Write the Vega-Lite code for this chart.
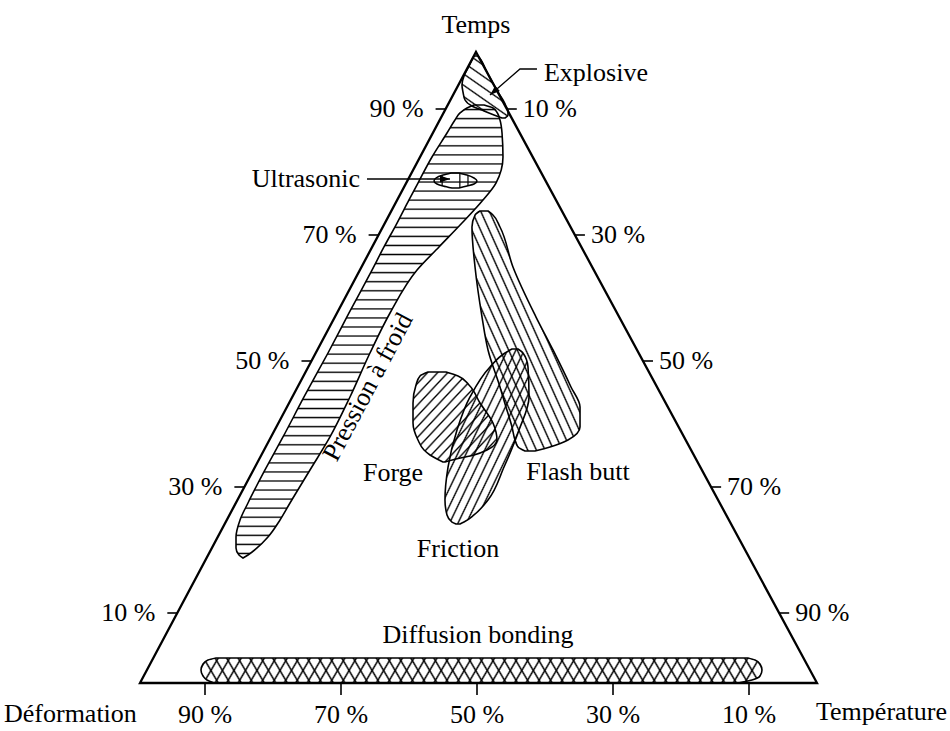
{
"$schema": "https://vega.github.io/schema/vega-lite/v6.json",
"width": 950, "height": 731, "padding": 0, "autosize": "none", "background": "white",
"config": {"view": {"stroke": null}, "font": "Liberation Serif", "text": {"font": "Liberation Serif", "fontSize": 26, "color": "#000"}},
"datasets": {
"shapes": [
{"s":"P","y":90.63,"x":49.56,"x2":51.03},
{"s":"P","y":90.16,"x":48.53,"x2":52.35},
{"s":"P","y":89.37,"x":47.5,"x2":53.0},
{"s":"P","y":88.25,"x":46.76,"x2":53.38},
{"s":"P","y":86.19,"x":45.59,"x2":53.68},
{"s":"P","y":82.38,"x":43.38,"x2":53.82},
{"s":"P","y":78.25,"x":41.32,"x2":52.79},
{"s":"P","y":75.56,"x":40.0,"x2":50.88},
{"s":"P","y":71.9,"x":38.24,"x2":47.79},
{"s":"P","y":68.1,"x":36.32,"x2":44.41},
{"s":"P","y":64.44,"x":34.56,"x2":41.18},
{"s":"P","y":57.62,"x":31.18,"x2":37.21},
{"s":"P","y":51.27,"x":28.09,"x2":34.26},
{"s":"P","y":44.29,"x":24.56,"x2":31.32},
{"s":"P","y":37.94,"x":21.47,"x2":28.38},
{"s":"P","y":32.7,"x":18.82,"x2":25.44},
{"s":"P","y":27.46,"x":16.32,"x2":22.5},
{"s":"P","y":24.76,"x":15.15,"x2":21.03},
{"s":"P","y":22.06,"x":14.56,"x2":19.26},
{"s":"P","y":20.32,"x":14.56,"x2":17.65},
{"s":"P","y":19.21,"x":15.0,"x2":16.32},
{"s":"P","y":18.73,"x":15.59,"x2":15.59},
{"s":"E","y":98.41,"x":49.56,"x2":50.15},
{"s":"E","y":97.78,"x":49.26,"x2":50.59},
{"s":"E","y":96.51,"x":48.68,"x2":51.18},
{"s":"E","y":95.24,"x":48.09,"x2":51.76},
{"s":"E","y":93.81,"x":47.79,"x2":52.5},
{"s":"E","y":92.7,"x":47.94,"x2":53.09},
{"s":"E","y":91.43,"x":48.24,"x2":53.82},
{"s":"E","y":90.48,"x":49.26,"x2":54.26},
{"s":"E","y":89.68,"x":51.03,"x2":54.56},
{"s":"E","y":89.05,"x":52.5,"x2":54.56},
{"s":"E","y":88.57,"x":53.68,"x2":54.12},
{"s":"F","y":73.81,"x":50.44,"x2":51.62},
{"s":"F","y":73.17,"x":49.71,"x2":52.35},
{"s":"F","y":71.27,"x":49.26,"x2":53.38},
{"s":"F","y":64.92,"x":49.71,"x2":55.29},
{"s":"F","y":56.98,"x":50.74,"x2":58.68},
{"s":"F","y":51.75,"x":51.62,"x2":61.18},
{"s":"F","y":45.87,"x":53.38,"x2":63.82},
{"s":"F","y":42.7,"x":54.26,"x2":65.15},
{"s":"F","y":39.52,"x":55.15,"x2":65.15},
{"s":"F","y":37.46,"x":55.59,"x2":63.38},
{"s":"F","y":36.35,"x":56.03,"x2":60.74},
{"s":"F","y":35.71,"x":57.06,"x2":58.53},
{"s":"R","y":51.9,"x":55.15,"x2":56.03},
{"s":"R","y":51.27,"x":54.12,"x2":56.76},
{"s":"R","y":49.05,"x":51.91,"x2":57.5},
{"s":"R","y":44.29,"x":48.97,"x2":57.65},
{"s":"R","y":39.05,"x":47.06,"x2":56.18},
{"s":"R","y":33.17,"x":45.74,"x2":53.97},
{"s":"R","y":27.94,"x":45.29,"x2":51.62},
{"s":"R","y":25.56,"x":45.59,"x2":49.56},
{"s":"R","y":24.44,"x":46.32,"x2":48.09},
{"s":"R","y":24.13,"x":46.91,"x2":47.5},
{"s":"G","y":48.25,"x":42.79,"x2":45.44},
{"s":"G","y":47.62,"x":41.62,"x2":47.21},
{"s":"G","y":46.19,"x":41.03,"x2":48.82},
{"s":"G","y":43.33,"x":40.59,"x2":50.44},
{"s":"G","y":40.16,"x":40.59,"x2":52.35},
{"s":"G","y":37.46,"x":41.32,"x2":52.94},
{"s":"G","y":35.87,"x":42.21,"x2":51.47},
{"s":"G","y":35.08,"x":43.09,"x2":49.56},
{"s":"G","y":34.44,"x":44.12,"x2":46.91},
{"s":"G","y":33.97,"x":45.0,"x2":45.29},
{"s":"U","y":79.84,"x":46.18,"x2":47.35},
{"s":"U","y":79.52,"x":45.0,"x2":48.53},
{"s":"U","y":79.05,"x":43.97,"x2":49.56},
{"s":"U","y":78.57,"x":43.68,"x2":50.0},
{"s":"U","y":78.1,"x":44.12,"x2":49.56},
{"s":"U","y":77.78,"x":45.0,"x2":48.53},
{"s":"U","y":77.46,"x":46.32,"x2":47.35},
{"s":"D","y":2.86,"x":11.62,"x2":89.85},
{"s":"D","y":2.54,"x":10.44,"x2":90.88},
{"s":"D","y":1.9,"x":9.71,"x2":91.62},
{"s":"D","y":0.95,"x":9.41,"x2":91.91},
{"s":"D","y":0,"x":9.71,"x2":91.62},
{"s":"D","y":-0.63,"x":10.29,"x2":90.44},
{"s":"D","y":-1.11,"x":11.32,"x2":88.38}
],
"lines": [
{"id":"tri","o":0,"x":0.44,"y":-1.11},
{"id":"tri","o":1,"x":49.85,"y":99.05},
{"id":"tri","o":2,"x":100.0,"y":-1.11},
{"id":"tri","o":3,"x":0.44,"y":-1.11},
{"id":"tri","o":4,"x":49.85,"y":99.05},
{"id":"exp","o":0,"x":58.82,"y":96.35},
{"id":"exp","o":1,"x":56.32,"y":96.35},
{"id":"exp","o":2,"x":51.91,"y":92.22},
{"id":"ult","o":0,"x":33.82,"y":78.89},
{"id":"ult","o":1,"x":46.03,"y":78.89}
],
"arrows": [
{"x":51.91,"y":92.22,"a":229},
{"x":46.03,"y":78.89,"a":90}
],
"ticks": [
{"side":"L","x":45.38,"y":90,"t":"90 %"},
{"side":"L","x":35.53,"y":70,"t":"70 %"},
{"side":"L","x":25.66,"y":50,"t":"50 %"},
{"side":"L","x":15.79,"y":30,"t":"30 %"},
{"side":"L","x":5.93,"y":10,"t":"10 %"},
{"side":"R","x":54.38,"y":90,"t":"10 %"},
{"side":"R","x":64.4,"y":70,"t":"30 %"},
{"side":"R","x":74.41,"y":50,"t":"50 %"},
{"side":"R","x":84.43,"y":30,"t":"70 %"},
{"side":"R","x":94.44,"y":10,"t":"90 %"},
{"side":"B","x":10,"y":-1.11,"t":"90 %"},
{"side":"B","x":30,"y":-1.11,"t":"70 %"},
{"side":"B","x":50,"y":-1.11,"t":"50 %"},
{"side":"B","x":70,"y":-1.11,"t":"30 %"},
{"side":"B","x":90,"y":-1.11,"t":"10 %"}
],
"labels": [
{"g":"C","t":"Temps","x":49.85,"y":102.06},
{"g":"C","t":"Forge","x":37.65,"y":30.95},
{"g":"C","t":"Friction","x":47.21,"y":18.89},
{"g":"C","t":"Flash butt","x":64.85,"y":31.11},
{"g":"C","t":"Diffusion bonding","x":50.15,"y":5.24},
{"g":"Lf","t":"Explosive","x":59.85,"y":94.44},
{"g":"Lf","t":"Déformation","x":-19.56,"y":-7.3},
{"g":"Rt","t":"Ultrasonic","x":32.79,"y":77.62},
{"g":"Rt","t":"Température","x":119.12,"y":-7.0},
{"g":"Rot","t":"Pression à froid","x":33.97,"y":45.87}
]
},
"encoding": {
"x": {"field":"x","type":"quantitative","scale":{"domain":[-20.1471,119.5588],"nice":false,"zero":false},"axis":null},
"y": {"field":"y","type":"quantitative","scale":{"domain":[-8.7302,107.3016],"nice":false,"zero":false},"axis":null}
},
"layer": [
{"data":{"name":"shapes"},"transform":[{"filter":{"field":"s","equal":"P"}}],
"mark":{"type":"area","orient":"horizontal","interpolate":"monotone","stroke":"#000","strokeWidth":1.6,"opacity":1,
"fill":{"gradient":"linear","x1":0,"y1":0,"x2":0,"y2":1,"stops":[
{"offset":0.007,"color":"#0000"},{"offset":0.01,"color":"#000"},{"offset":0.013,"color":"#0000"},
{"offset":0.027,"color":"#0000"},{"offset":0.03,"color":"#000"},{"offset":0.033,"color":"#0000"},
{"offset":0.047,"color":"#0000"},{"offset":0.05,"color":"#000"},{"offset":0.053,"color":"#0000"},
{"offset":0.067,"color":"#0000"},{"offset":0.07,"color":"#000"},{"offset":0.073,"color":"#0000"},
{"offset":0.087,"color":"#0000"},{"offset":0.09,"color":"#000"},{"offset":0.093,"color":"#0000"},
{"offset":0.107,"color":"#0000"},{"offset":0.11,"color":"#000"},{"offset":0.113,"color":"#0000"},
{"offset":0.127,"color":"#0000"},{"offset":0.13,"color":"#000"},{"offset":0.133,"color":"#0000"},
{"offset":0.147,"color":"#0000"},{"offset":0.15,"color":"#000"},{"offset":0.153,"color":"#0000"},
{"offset":0.167,"color":"#0000"},{"offset":0.17,"color":"#000"},{"offset":0.173,"color":"#0000"},
{"offset":0.187,"color":"#0000"},{"offset":0.19,"color":"#000"},{"offset":0.193,"color":"#0000"},
{"offset":0.207,"color":"#0000"},{"offset":0.21,"color":"#000"},{"offset":0.213,"color":"#0000"},
{"offset":0.227,"color":"#0000"},{"offset":0.23,"color":"#000"},{"offset":0.233,"color":"#0000"},
{"offset":0.247,"color":"#0000"},{"offset":0.25,"color":"#000"},{"offset":0.253,"color":"#0000"},
{"offset":0.267,"color":"#0000"},{"offset":0.27,"color":"#000"},{"offset":0.273,"color":"#0000"},
{"offset":0.287,"color":"#0000"},{"offset":0.29,"color":"#000"},{"offset":0.293,"color":"#0000"},
{"offset":0.307,"color":"#0000"},{"offset":0.31,"color":"#000"},{"offset":0.313,"color":"#0000"},
{"offset":0.327,"color":"#0000"},{"offset":0.33,"color":"#000"},{"offset":0.333,"color":"#0000"},
{"offset":0.347,"color":"#0000"},{"offset":0.35,"color":"#000"},{"offset":0.353,"color":"#0000"},
{"offset":0.367,"color":"#0000"},{"offset":0.37,"color":"#000"},{"offset":0.373,"color":"#0000"},
{"offset":0.387,"color":"#0000"},{"offset":0.39,"color":"#000"},{"offset":0.393,"color":"#0000"},
{"offset":0.407,"color":"#0000"},{"offset":0.41,"color":"#000"},{"offset":0.413,"color":"#0000"},
{"offset":0.427,"color":"#0000"},{"offset":0.43,"color":"#000"},{"offset":0.433,"color":"#0000"},
{"offset":0.447,"color":"#0000"},{"offset":0.45,"color":"#000"},{"offset":0.453,"color":"#0000"},
{"offset":0.467,"color":"#0000"},{"offset":0.47,"color":"#000"},{"offset":0.473,"color":"#0000"},
{"offset":0.487,"color":"#0000"},{"offset":0.49,"color":"#000"},{"offset":0.493,"color":"#0000"},
{"offset":0.507,"color":"#0000"},{"offset":0.51,"color":"#000"},{"offset":0.513,"color":"#0000"},
{"offset":0.527,"color":"#0000"},{"offset":0.53,"color":"#000"},{"offset":0.533,"color":"#0000"},
{"offset":0.547,"color":"#0000"},{"offset":0.55,"color":"#000"},{"offset":0.553,"color":"#0000"},
{"offset":0.567,"color":"#0000"},{"offset":0.57,"color":"#000"},{"offset":0.573,"color":"#0000"},
{"offset":0.587,"color":"#0000"},{"offset":0.59,"color":"#000"},{"offset":0.593,"color":"#0000"},
{"offset":0.607,"color":"#0000"},{"offset":0.61,"color":"#000"},{"offset":0.613,"color":"#0000"},
{"offset":0.627,"color":"#0000"},{"offset":0.63,"color":"#000"},{"offset":0.633,"color":"#0000"},
{"offset":0.647,"color":"#0000"},{"offset":0.65,"color":"#000"},{"offset":0.653,"color":"#0000"},
{"offset":0.667,"color":"#0000"},{"offset":0.67,"color":"#000"},{"offset":0.673,"color":"#0000"},
{"offset":0.687,"color":"#0000"},{"offset":0.69,"color":"#000"},{"offset":0.693,"color":"#0000"},
{"offset":0.707,"color":"#0000"},{"offset":0.71,"color":"#000"},{"offset":0.713,"color":"#0000"},
{"offset":0.727,"color":"#0000"},{"offset":0.73,"color":"#000"},{"offset":0.733,"color":"#0000"},
{"offset":0.747,"color":"#0000"},{"offset":0.75,"color":"#000"},{"offset":0.753,"color":"#0000"},
{"offset":0.767,"color":"#0000"},{"offset":0.77,"color":"#000"},{"offset":0.773,"color":"#0000"},
{"offset":0.787,"color":"#0000"},{"offset":0.79,"color":"#000"},{"offset":0.793,"color":"#0000"},
{"offset":0.807,"color":"#0000"},{"offset":0.81,"color":"#000"},{"offset":0.813,"color":"#0000"},
{"offset":0.827,"color":"#0000"},{"offset":0.83,"color":"#000"},{"offset":0.833,"color":"#0000"},
{"offset":0.847,"color":"#0000"},{"offset":0.85,"color":"#000"},{"offset":0.853,"color":"#0000"},
{"offset":0.867,"color":"#0000"},{"offset":0.87,"color":"#000"},{"offset":0.873,"color":"#0000"},
{"offset":0.887,"color":"#0000"},{"offset":0.89,"color":"#000"},{"offset":0.893,"color":"#0000"},
{"offset":0.907,"color":"#0000"},{"offset":0.91,"color":"#000"},{"offset":0.913,"color":"#0000"},
{"offset":0.927,"color":"#0000"},{"offset":0.93,"color":"#000"},{"offset":0.933,"color":"#0000"},
{"offset":0.947,"color":"#0000"},{"offset":0.95,"color":"#000"},{"offset":0.953,"color":"#0000"},
{"offset":0.967,"color":"#0000"},{"offset":0.97,"color":"#000"},{"offset":0.973,"color":"#0000"},
{"offset":0.987,"color":"#0000"},{"offset":0.99,"color":"#000"},{"offset":0.993,"color":"#0000"}
]}},
"encoding":{"x2":{"field":"x2"}}},

{"data":{"name":"shapes"},"transform":[{"filter":{"field":"s","equal":"U"}}],
"mark":{"type":"area","orient":"horizontal","interpolate":"monotone","stroke":"#000","strokeWidth":1.5,"opacity":1,
"fill":{"gradient":"linear","x1":0,"y1":0,"x2":1,"y2":0,"stops":[
{"offset":0.16,"color":"#0000"},{"offset":0.19,"color":"#000"},{"offset":0.22,"color":"#0000"},
{"offset":0.57,"color":"#0000"},{"offset":0.6,"color":"#000"},{"offset":0.63,"color":"#0000"},
{"offset":0.76,"color":"#0000"},{"offset":0.79,"color":"#000"},{"offset":0.82,"color":"#0000"}
]}},
"encoding":{"x2":{"field":"x2"}}},

{"data":{"name":"shapes"},"transform":[{"filter":{"field":"s","equal":"E"}}],
"mark":{"type":"area","orient":"horizontal","interpolate":"monotone","stroke":"#000","strokeWidth":1.6,"opacity":1,
"fill":{"gradient":"linear","x1":0,"y1":1,"x2":0.621,"y2":-0.197,"stops":[
{"offset":0.103,"color":"#0000"},{"offset":0.12,"color":"#000"},{"offset":0.137,"color":"#0000"},
{"offset":0.223,"color":"#0000"},{"offset":0.24,"color":"#000"},{"offset":0.257,"color":"#0000"},
{"offset":0.343,"color":"#0000"},{"offset":0.36,"color":"#000"},{"offset":0.377,"color":"#0000"},
{"offset":0.463,"color":"#0000"},{"offset":0.48,"color":"#000"},{"offset":0.497,"color":"#0000"},
{"offset":0.583,"color":"#0000"},{"offset":0.6,"color":"#000"},{"offset":0.617,"color":"#0000"},
{"offset":0.703,"color":"#0000"},{"offset":0.72,"color":"#000"},{"offset":0.737,"color":"#0000"},
{"offset":0.823,"color":"#0000"},{"offset":0.84,"color":"#000"},{"offset":0.857,"color":"#0000"},
{"offset":0.943,"color":"#0000"},{"offset":0.96,"color":"#000"},{"offset":0.977,"color":"#0000"}
]}},
"encoding":{"x2":{"field":"x2"}}},

{"data":{"name":"shapes"},"transform":[{"filter":{"field":"s","equal":"F"}}],
"mark":{"type":"area","orient":"horizontal","interpolate":"monotone","stroke":"#000","strokeWidth":1.6,"opacity":1,
"fill":{"gradient":"linear","x1":0,"y1":1,"x2":1,"y2":0,"stops":[
{"offset":0.013,"color":"#0000"},{"offset":0.02,"color":"#000"},{"offset":0.027,"color":"#0000"},
{"offset":0.053,"color":"#0000"},{"offset":0.06,"color":"#000"},{"offset":0.067,"color":"#0000"},
{"offset":0.093,"color":"#0000"},{"offset":0.1,"color":"#000"},{"offset":0.107,"color":"#0000"},
{"offset":0.133,"color":"#0000"},{"offset":0.14,"color":"#000"},{"offset":0.147,"color":"#0000"},
{"offset":0.173,"color":"#0000"},{"offset":0.18,"color":"#000"},{"offset":0.187,"color":"#0000"},
{"offset":0.213,"color":"#0000"},{"offset":0.22,"color":"#000"},{"offset":0.227,"color":"#0000"},
{"offset":0.253,"color":"#0000"},{"offset":0.26,"color":"#000"},{"offset":0.267,"color":"#0000"},
{"offset":0.293,"color":"#0000"},{"offset":0.3,"color":"#000"},{"offset":0.307,"color":"#0000"},
{"offset":0.333,"color":"#0000"},{"offset":0.34,"color":"#000"},{"offset":0.347,"color":"#0000"},
{"offset":0.373,"color":"#0000"},{"offset":0.38,"color":"#000"},{"offset":0.387,"color":"#0000"},
{"offset":0.413,"color":"#0000"},{"offset":0.42,"color":"#000"},{"offset":0.427,"color":"#0000"},
{"offset":0.453,"color":"#0000"},{"offset":0.46,"color":"#000"},{"offset":0.467,"color":"#0000"},
{"offset":0.493,"color":"#0000"},{"offset":0.5,"color":"#000"},{"offset":0.507,"color":"#0000"},
{"offset":0.533,"color":"#0000"},{"offset":0.54,"color":"#000"},{"offset":0.547,"color":"#0000"},
{"offset":0.573,"color":"#0000"},{"offset":0.58,"color":"#000"},{"offset":0.587,"color":"#0000"},
{"offset":0.613,"color":"#0000"},{"offset":0.62,"color":"#000"},{"offset":0.627,"color":"#0000"},
{"offset":0.653,"color":"#0000"},{"offset":0.66,"color":"#000"},{"offset":0.667,"color":"#0000"},
{"offset":0.693,"color":"#0000"},{"offset":0.7,"color":"#000"},{"offset":0.707,"color":"#0000"},
{"offset":0.733,"color":"#0000"},{"offset":0.74,"color":"#000"},{"offset":0.747,"color":"#0000"},
{"offset":0.773,"color":"#0000"},{"offset":0.78,"color":"#000"},{"offset":0.787,"color":"#0000"},
{"offset":0.813,"color":"#0000"},{"offset":0.82,"color":"#000"},{"offset":0.827,"color":"#0000"},
{"offset":0.853,"color":"#0000"},{"offset":0.86,"color":"#000"},{"offset":0.867,"color":"#0000"},
{"offset":0.893,"color":"#0000"},{"offset":0.9,"color":"#000"},{"offset":0.907,"color":"#0000"},
{"offset":0.933,"color":"#0000"},{"offset":0.94,"color":"#000"},{"offset":0.947,"color":"#0000"},
{"offset":0.973,"color":"#0000"},{"offset":0.98,"color":"#000"},{"offset":0.987,"color":"#0000"}
]}},
"encoding":{"x2":{"field":"x2"}}},

{"data":{"name":"shapes"},"transform":[{"filter":{"field":"s","equal":"R"}}],
"mark":{"type":"area","orient":"horizontal","interpolate":"monotone","stroke":"#000","strokeWidth":1.6,"opacity":1,
"fill":{"gradient":"linear","x1":0,"y1":0,"x2":1,"y2":1,"stops":[
{"offset":0.016,"color":"#0000"},{"offset":0.025,"color":"#000"},{"offset":0.034,"color":"#0000"},
{"offset":0.066,"color":"#0000"},{"offset":0.075,"color":"#000"},{"offset":0.084,"color":"#0000"},
{"offset":0.116,"color":"#0000"},{"offset":0.125,"color":"#000"},{"offset":0.134,"color":"#0000"},
{"offset":0.166,"color":"#0000"},{"offset":0.175,"color":"#000"},{"offset":0.184,"color":"#0000"},
{"offset":0.216,"color":"#0000"},{"offset":0.225,"color":"#000"},{"offset":0.234,"color":"#0000"},
{"offset":0.266,"color":"#0000"},{"offset":0.275,"color":"#000"},{"offset":0.284,"color":"#0000"},
{"offset":0.316,"color":"#0000"},{"offset":0.325,"color":"#000"},{"offset":0.334,"color":"#0000"},
{"offset":0.366,"color":"#0000"},{"offset":0.375,"color":"#000"},{"offset":0.384,"color":"#0000"},
{"offset":0.416,"color":"#0000"},{"offset":0.425,"color":"#000"},{"offset":0.434,"color":"#0000"},
{"offset":0.466,"color":"#0000"},{"offset":0.475,"color":"#000"},{"offset":0.484,"color":"#0000"},
{"offset":0.516,"color":"#0000"},{"offset":0.525,"color":"#000"},{"offset":0.534,"color":"#0000"},
{"offset":0.566,"color":"#0000"},{"offset":0.575,"color":"#000"},{"offset":0.584,"color":"#0000"},
{"offset":0.616,"color":"#0000"},{"offset":0.625,"color":"#000"},{"offset":0.634,"color":"#0000"},
{"offset":0.666,"color":"#0000"},{"offset":0.675,"color":"#000"},{"offset":0.684,"color":"#0000"},
{"offset":0.716,"color":"#0000"},{"offset":0.725,"color":"#000"},{"offset":0.734,"color":"#0000"},
{"offset":0.766,"color":"#0000"},{"offset":0.775,"color":"#000"},{"offset":0.784,"color":"#0000"},
{"offset":0.816,"color":"#0000"},{"offset":0.825,"color":"#000"},{"offset":0.834,"color":"#0000"},
{"offset":0.866,"color":"#0000"},{"offset":0.875,"color":"#000"},{"offset":0.884,"color":"#0000"},
{"offset":0.916,"color":"#0000"},{"offset":0.925,"color":"#000"},{"offset":0.934,"color":"#0000"},
{"offset":0.966,"color":"#0000"},{"offset":0.975,"color":"#000"},{"offset":0.984,"color":"#0000"}
]}},
"encoding":{"x2":{"field":"x2"}}},

{"data":{"name":"shapes"},"transform":[{"filter":{"field":"s","equal":"G"}}],
"mark":{"type":"area","orient":"horizontal","interpolate":"monotone","stroke":"#000","strokeWidth":1.6,"opacity":1,
"fill":{"gradient":"linear","x1":0,"y1":0,"x2":1,"y2":1,"stops":[
{"offset":0.019,"color":"#0000"},{"offset":0.03,"color":"#000"},{"offset":0.041,"color":"#0000"},
{"offset":0.079,"color":"#0000"},{"offset":0.09,"color":"#000"},{"offset":0.101,"color":"#0000"},
{"offset":0.139,"color":"#0000"},{"offset":0.15,"color":"#000"},{"offset":0.161,"color":"#0000"},
{"offset":0.199,"color":"#0000"},{"offset":0.21,"color":"#000"},{"offset":0.221,"color":"#0000"},
{"offset":0.259,"color":"#0000"},{"offset":0.27,"color":"#000"},{"offset":0.281,"color":"#0000"},
{"offset":0.319,"color":"#0000"},{"offset":0.33,"color":"#000"},{"offset":0.341,"color":"#0000"},
{"offset":0.379,"color":"#0000"},{"offset":0.39,"color":"#000"},{"offset":0.401,"color":"#0000"},
{"offset":0.439,"color":"#0000"},{"offset":0.45,"color":"#000"},{"offset":0.461,"color":"#0000"},
{"offset":0.499,"color":"#0000"},{"offset":0.51,"color":"#000"},{"offset":0.521,"color":"#0000"},
{"offset":0.559,"color":"#0000"},{"offset":0.57,"color":"#000"},{"offset":0.581,"color":"#0000"},
{"offset":0.619,"color":"#0000"},{"offset":0.63,"color":"#000"},{"offset":0.641,"color":"#0000"},
{"offset":0.679,"color":"#0000"},{"offset":0.69,"color":"#000"},{"offset":0.701,"color":"#0000"},
{"offset":0.739,"color":"#0000"},{"offset":0.75,"color":"#000"},{"offset":0.761,"color":"#0000"},
{"offset":0.799,"color":"#0000"},{"offset":0.81,"color":"#000"},{"offset":0.821,"color":"#0000"},
{"offset":0.859,"color":"#0000"},{"offset":0.87,"color":"#000"},{"offset":0.881,"color":"#0000"},
{"offset":0.919,"color":"#0000"},{"offset":0.93,"color":"#000"},{"offset":0.941,"color":"#0000"},
{"offset":0.979,"color":"#0000"},{"offset":0.99,"color":"#000"},{"offset":1,"color":"#0000"}
]}},
"encoding":{"x2":{"field":"x2"}}},

{"data":{"name":"shapes"},"transform":[{"filter":{"field":"s","equal":"D"}}],
"mark":{"type":"area","orient":"horizontal","interpolate":"monotone","stroke":"#000","strokeWidth":1.6,"opacity":1,
"fill":{"gradient":"linear","x1":0,"y1":0,"x2":1.0255,"y2":0.0269,"stops":[
{"offset":0.007,"color":"#0000"},{"offset":0.01,"color":"#000"},{"offset":0.013,"color":"#0000"},
{"offset":0.027,"color":"#0000"},{"offset":0.03,"color":"#000"},{"offset":0.033,"color":"#0000"},
{"offset":0.047,"color":"#0000"},{"offset":0.05,"color":"#000"},{"offset":0.053,"color":"#0000"},
{"offset":0.067,"color":"#0000"},{"offset":0.07,"color":"#000"},{"offset":0.073,"color":"#0000"},
{"offset":0.087,"color":"#0000"},{"offset":0.09,"color":"#000"},{"offset":0.093,"color":"#0000"},
{"offset":0.107,"color":"#0000"},{"offset":0.11,"color":"#000"},{"offset":0.113,"color":"#0000"},
{"offset":0.127,"color":"#0000"},{"offset":0.13,"color":"#000"},{"offset":0.133,"color":"#0000"},
{"offset":0.147,"color":"#0000"},{"offset":0.15,"color":"#000"},{"offset":0.153,"color":"#0000"},
{"offset":0.167,"color":"#0000"},{"offset":0.17,"color":"#000"},{"offset":0.173,"color":"#0000"},
{"offset":0.187,"color":"#0000"},{"offset":0.19,"color":"#000"},{"offset":0.193,"color":"#0000"},
{"offset":0.207,"color":"#0000"},{"offset":0.21,"color":"#000"},{"offset":0.213,"color":"#0000"},
{"offset":0.227,"color":"#0000"},{"offset":0.23,"color":"#000"},{"offset":0.233,"color":"#0000"},
{"offset":0.247,"color":"#0000"},{"offset":0.25,"color":"#000"},{"offset":0.253,"color":"#0000"},
{"offset":0.267,"color":"#0000"},{"offset":0.27,"color":"#000"},{"offset":0.273,"color":"#0000"},
{"offset":0.287,"color":"#0000"},{"offset":0.29,"color":"#000"},{"offset":0.293,"color":"#0000"},
{"offset":0.307,"color":"#0000"},{"offset":0.31,"color":"#000"},{"offset":0.313,"color":"#0000"},
{"offset":0.327,"color":"#0000"},{"offset":0.33,"color":"#000"},{"offset":0.333,"color":"#0000"},
{"offset":0.347,"color":"#0000"},{"offset":0.35,"color":"#000"},{"offset":0.353,"color":"#0000"},
{"offset":0.367,"color":"#0000"},{"offset":0.37,"color":"#000"},{"offset":0.373,"color":"#0000"},
{"offset":0.387,"color":"#0000"},{"offset":0.39,"color":"#000"},{"offset":0.393,"color":"#0000"},
{"offset":0.407,"color":"#0000"},{"offset":0.41,"color":"#000"},{"offset":0.413,"color":"#0000"},
{"offset":0.427,"color":"#0000"},{"offset":0.43,"color":"#000"},{"offset":0.433,"color":"#0000"},
{"offset":0.447,"color":"#0000"},{"offset":0.45,"color":"#000"},{"offset":0.453,"color":"#0000"},
{"offset":0.467,"color":"#0000"},{"offset":0.47,"color":"#000"},{"offset":0.473,"color":"#0000"},
{"offset":0.487,"color":"#0000"},{"offset":0.49,"color":"#000"},{"offset":0.493,"color":"#0000"},
{"offset":0.507,"color":"#0000"},{"offset":0.51,"color":"#000"},{"offset":0.513,"color":"#0000"},
{"offset":0.527,"color":"#0000"},{"offset":0.53,"color":"#000"},{"offset":0.533,"color":"#0000"},
{"offset":0.547,"color":"#0000"},{"offset":0.55,"color":"#000"},{"offset":0.553,"color":"#0000"},
{"offset":0.567,"color":"#0000"},{"offset":0.57,"color":"#000"},{"offset":0.573,"color":"#0000"},
{"offset":0.587,"color":"#0000"},{"offset":0.59,"color":"#000"},{"offset":0.593,"color":"#0000"},
{"offset":0.607,"color":"#0000"},{"offset":0.61,"color":"#000"},{"offset":0.613,"color":"#0000"},
{"offset":0.627,"color":"#0000"},{"offset":0.63,"color":"#000"},{"offset":0.633,"color":"#0000"},
{"offset":0.647,"color":"#0000"},{"offset":0.65,"color":"#000"},{"offset":0.653,"color":"#0000"},
{"offset":0.667,"color":"#0000"},{"offset":0.67,"color":"#000"},{"offset":0.673,"color":"#0000"},
{"offset":0.687,"color":"#0000"},{"offset":0.69,"color":"#000"},{"offset":0.693,"color":"#0000"},
{"offset":0.707,"color":"#0000"},{"offset":0.71,"color":"#000"},{"offset":0.713,"color":"#0000"},
{"offset":0.727,"color":"#0000"},{"offset":0.73,"color":"#000"},{"offset":0.733,"color":"#0000"},
{"offset":0.747,"color":"#0000"},{"offset":0.75,"color":"#000"},{"offset":0.753,"color":"#0000"},
{"offset":0.767,"color":"#0000"},{"offset":0.77,"color":"#000"},{"offset":0.773,"color":"#0000"},
{"offset":0.787,"color":"#0000"},{"offset":0.79,"color":"#000"},{"offset":0.793,"color":"#0000"},
{"offset":0.807,"color":"#0000"},{"offset":0.81,"color":"#000"},{"offset":0.813,"color":"#0000"},
{"offset":0.827,"color":"#0000"},{"offset":0.83,"color":"#000"},{"offset":0.833,"color":"#0000"},
{"offset":0.847,"color":"#0000"},{"offset":0.85,"color":"#000"},{"offset":0.853,"color":"#0000"},
{"offset":0.867,"color":"#0000"},{"offset":0.87,"color":"#000"},{"offset":0.873,"color":"#0000"},
{"offset":0.887,"color":"#0000"},{"offset":0.89,"color":"#000"},{"offset":0.893,"color":"#0000"},
{"offset":0.907,"color":"#0000"},{"offset":0.91,"color":"#000"},{"offset":0.913,"color":"#0000"},
{"offset":0.927,"color":"#0000"},{"offset":0.93,"color":"#000"},{"offset":0.933,"color":"#0000"},
{"offset":0.947,"color":"#0000"},{"offset":0.95,"color":"#000"},{"offset":0.953,"color":"#0000"},
{"offset":0.967,"color":"#0000"},{"offset":0.97,"color":"#000"},{"offset":0.973,"color":"#0000"},
{"offset":0.987,"color":"#0000"},{"offset":0.99,"color":"#000"},{"offset":0.993,"color":"#0000"}
]}},
"encoding":{"x2":{"field":"x2"}}},

{"data":{"name":"shapes"},"transform":[{"filter":{"field":"s","equal":"D"}}],
"mark":{"type":"area","orient":"horizontal","interpolate":"monotone","strokeWidth":0,"opacity":1,
"fill":{"gradient":"linear","x1":0,"y1":1,"x2":1.0255,"y2":0.9731,"stops":[
{"offset":0.007,"color":"#0000"},{"offset":0.01,"color":"#000"},{"offset":0.013,"color":"#0000"},
{"offset":0.027,"color":"#0000"},{"offset":0.03,"color":"#000"},{"offset":0.033,"color":"#0000"},
{"offset":0.047,"color":"#0000"},{"offset":0.05,"color":"#000"},{"offset":0.053,"color":"#0000"},
{"offset":0.067,"color":"#0000"},{"offset":0.07,"color":"#000"},{"offset":0.073,"color":"#0000"},
{"offset":0.087,"color":"#0000"},{"offset":0.09,"color":"#000"},{"offset":0.093,"color":"#0000"},
{"offset":0.107,"color":"#0000"},{"offset":0.11,"color":"#000"},{"offset":0.113,"color":"#0000"},
{"offset":0.127,"color":"#0000"},{"offset":0.13,"color":"#000"},{"offset":0.133,"color":"#0000"},
{"offset":0.147,"color":"#0000"},{"offset":0.15,"color":"#000"},{"offset":0.153,"color":"#0000"},
{"offset":0.167,"color":"#0000"},{"offset":0.17,"color":"#000"},{"offset":0.173,"color":"#0000"},
{"offset":0.187,"color":"#0000"},{"offset":0.19,"color":"#000"},{"offset":0.193,"color":"#0000"},
{"offset":0.207,"color":"#0000"},{"offset":0.21,"color":"#000"},{"offset":0.213,"color":"#0000"},
{"offset":0.227,"color":"#0000"},{"offset":0.23,"color":"#000"},{"offset":0.233,"color":"#0000"},
{"offset":0.247,"color":"#0000"},{"offset":0.25,"color":"#000"},{"offset":0.253,"color":"#0000"},
{"offset":0.267,"color":"#0000"},{"offset":0.27,"color":"#000"},{"offset":0.273,"color":"#0000"},
{"offset":0.287,"color":"#0000"},{"offset":0.29,"color":"#000"},{"offset":0.293,"color":"#0000"},
{"offset":0.307,"color":"#0000"},{"offset":0.31,"color":"#000"},{"offset":0.313,"color":"#0000"},
{"offset":0.327,"color":"#0000"},{"offset":0.33,"color":"#000"},{"offset":0.333,"color":"#0000"},
{"offset":0.347,"color":"#0000"},{"offset":0.35,"color":"#000"},{"offset":0.353,"color":"#0000"},
{"offset":0.367,"color":"#0000"},{"offset":0.37,"color":"#000"},{"offset":0.373,"color":"#0000"},
{"offset":0.387,"color":"#0000"},{"offset":0.39,"color":"#000"},{"offset":0.393,"color":"#0000"},
{"offset":0.407,"color":"#0000"},{"offset":0.41,"color":"#000"},{"offset":0.413,"color":"#0000"},
{"offset":0.427,"color":"#0000"},{"offset":0.43,"color":"#000"},{"offset":0.433,"color":"#0000"},
{"offset":0.447,"color":"#0000"},{"offset":0.45,"color":"#000"},{"offset":0.453,"color":"#0000"},
{"offset":0.467,"color":"#0000"},{"offset":0.47,"color":"#000"},{"offset":0.473,"color":"#0000"},
{"offset":0.487,"color":"#0000"},{"offset":0.49,"color":"#000"},{"offset":0.493,"color":"#0000"},
{"offset":0.507,"color":"#0000"},{"offset":0.51,"color":"#000"},{"offset":0.513,"color":"#0000"},
{"offset":0.527,"color":"#0000"},{"offset":0.53,"color":"#000"},{"offset":0.533,"color":"#0000"},
{"offset":0.547,"color":"#0000"},{"offset":0.55,"color":"#000"},{"offset":0.553,"color":"#0000"},
{"offset":0.567,"color":"#0000"},{"offset":0.57,"color":"#000"},{"offset":0.573,"color":"#0000"},
{"offset":0.587,"color":"#0000"},{"offset":0.59,"color":"#000"},{"offset":0.593,"color":"#0000"},
{"offset":0.607,"color":"#0000"},{"offset":0.61,"color":"#000"},{"offset":0.613,"color":"#0000"},
{"offset":0.627,"color":"#0000"},{"offset":0.63,"color":"#000"},{"offset":0.633,"color":"#0000"},
{"offset":0.647,"color":"#0000"},{"offset":0.65,"color":"#000"},{"offset":0.653,"color":"#0000"},
{"offset":0.667,"color":"#0000"},{"offset":0.67,"color":"#000"},{"offset":0.673,"color":"#0000"},
{"offset":0.687,"color":"#0000"},{"offset":0.69,"color":"#000"},{"offset":0.693,"color":"#0000"},
{"offset":0.707,"color":"#0000"},{"offset":0.71,"color":"#000"},{"offset":0.713,"color":"#0000"},
{"offset":0.727,"color":"#0000"},{"offset":0.73,"color":"#000"},{"offset":0.733,"color":"#0000"},
{"offset":0.747,"color":"#0000"},{"offset":0.75,"color":"#000"},{"offset":0.753,"color":"#0000"},
{"offset":0.767,"color":"#0000"},{"offset":0.77,"color":"#000"},{"offset":0.773,"color":"#0000"},
{"offset":0.787,"color":"#0000"},{"offset":0.79,"color":"#000"},{"offset":0.793,"color":"#0000"},
{"offset":0.807,"color":"#0000"},{"offset":0.81,"color":"#000"},{"offset":0.813,"color":"#0000"},
{"offset":0.827,"color":"#0000"},{"offset":0.83,"color":"#000"},{"offset":0.833,"color":"#0000"},
{"offset":0.847,"color":"#0000"},{"offset":0.85,"color":"#000"},{"offset":0.853,"color":"#0000"},
{"offset":0.867,"color":"#0000"},{"offset":0.87,"color":"#000"},{"offset":0.873,"color":"#0000"},
{"offset":0.887,"color":"#0000"},{"offset":0.89,"color":"#000"},{"offset":0.893,"color":"#0000"},
{"offset":0.907,"color":"#0000"},{"offset":0.91,"color":"#000"},{"offset":0.913,"color":"#0000"},
{"offset":0.927,"color":"#0000"},{"offset":0.93,"color":"#000"},{"offset":0.933,"color":"#0000"},
{"offset":0.947,"color":"#0000"},{"offset":0.95,"color":"#000"},{"offset":0.953,"color":"#0000"},
{"offset":0.967,"color":"#0000"},{"offset":0.97,"color":"#000"},{"offset":0.973,"color":"#0000"},
{"offset":0.987,"color":"#0000"},{"offset":0.99,"color":"#000"},{"offset":0.993,"color":"#0000"}
]}},
"encoding":{"x2":{"field":"x2"}}},

{"data":{"name":"lines"},"transform":[{"filter":{"field":"id","equal":"tri"}}],
"mark":{"type":"line","stroke":"#000","strokeWidth":2.3,"strokeJoin":"miter","strokeMiterLimit":10,"opacity":1},
"encoding":{"order":{"field":"o","type":"quantitative"}}},

{"data":{"name":"lines"},"transform":[{"filter":"datum.id !== 'tri'"}],
"mark":{"type":"line","stroke":"#000","strokeWidth":1.3,"opacity":1},
"encoding":{"detail":{"field":"id"},"order":{"field":"o","type":"quantitative"}}},

{"data":{"name":"arrows"},
"mark":{"type":"point","shape":"M0,0L-0.7,2L0.7,2Z","size":100,"filled":true,"fill":"#000","strokeWidth":0,"opacity":1},
"encoding":{"angle":{"field":"a","type":"quantitative","scale":null}}},

{"data":{"name":"ticks"},"transform":[{"filter":{"field":"side","equal":"L"}}],
"mark":{"type":"point","shape":"M-2,0L0,0","size":100,"filled":false,"stroke":"#000","strokeWidth":1.6,"opacity":1}},
{"data":{"name":"ticks"},"transform":[{"filter":{"field":"side","equal":"R"}}],
"mark":{"type":"point","shape":"M0,0L2,0","size":100,"filled":false,"stroke":"#000","strokeWidth":1.6,"opacity":1}},
{"data":{"name":"ticks"},"transform":[{"filter":{"field":"side","equal":"B"}}],
"mark":{"type":"point","shape":"M0,0L0,2","size":144,"filled":false,"stroke":"#000","strokeWidth":1.6,"opacity":1}},

{"data":{"name":"ticks"},"transform":[{"filter":{"field":"side","equal":"L"}}],
"mark":{"type":"text","font":"Liberation Serif","fontSize":26,"align":"right","baseline":"middle","dx":-22},
"encoding":{"text":{"field":"t"}}},
{"data":{"name":"ticks"},"transform":[{"filter":{"field":"side","equal":"R"}}],
"mark":{"type":"text","font":"Liberation Serif","fontSize":26,"align":"left","baseline":"middle","dx":16},
"encoding":{"text":{"field":"t"}}},
{"data":{"name":"ticks"},"transform":[{"filter":{"field":"side","equal":"B"}}],
"mark":{"type":"text","font":"Liberation Serif","fontSize":26,"align":"center","baseline":"alphabetic","dy":40},
"encoding":{"text":{"field":"t"}}},

{"data":{"name":"labels"},"transform":[{"filter":{"field":"g","equal":"C"}}],
"mark":{"type":"text","font":"Liberation Serif","fontSize":26,"align":"center","baseline":"alphabetic"},
"encoding":{"text":{"field":"t"}}},
{"data":{"name":"labels"},"transform":[{"filter":{"field":"g","equal":"Lf"}}],
"mark":{"type":"text","font":"Liberation Serif","fontSize":26,"align":"left","baseline":"alphabetic"},
"encoding":{"text":{"field":"t"}}},
{"data":{"name":"labels"},"transform":[{"filter":{"field":"g","equal":"Rt"}}],
"mark":{"type":"text","font":"Liberation Serif","fontSize":26,"align":"right","baseline":"alphabetic"},
"encoding":{"text":{"field":"t"}}},
{"data":{"name":"labels"},"transform":[{"filter":{"field":"g","equal":"Rot"}}],
"mark":{"type":"text","font":"Liberation Serif","fontSize":26,"align":"center","baseline":"middle","angle":298},
"encoding":{"text":{"field":"t"}}}
]
}
